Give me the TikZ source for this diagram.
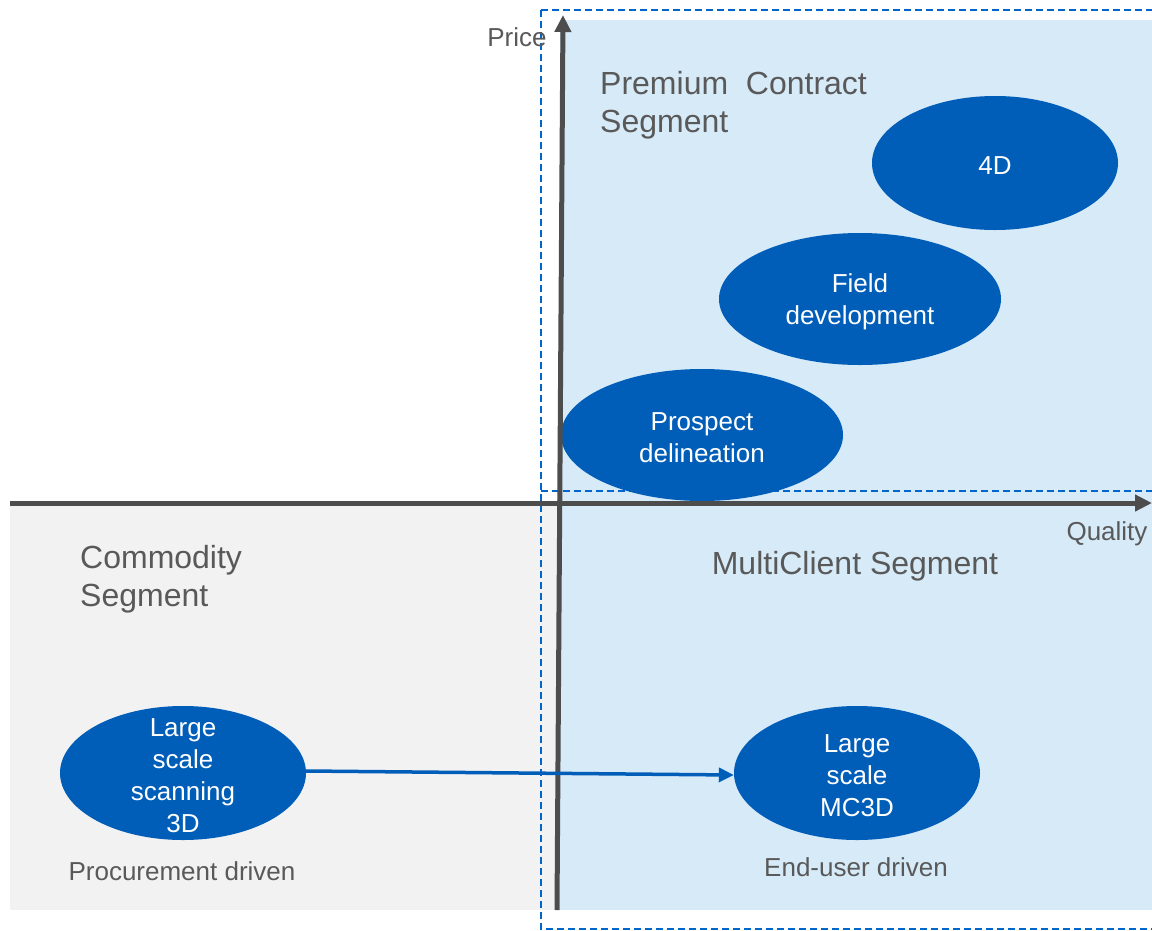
\documentclass[tikz,border=0pt]{standalone}
\usepackage{fontspec}
\setmainfont{Liberation Sans}
\usetikzlibrary{shapes.geometric,arrows.meta}
\definecolor{txtgrey}{RGB}{89,89,89}
\definecolor{axisgrey}{RGB}{77,77,77}
\definecolor{dblue}{RGB}{0,94,184}
\definecolor{lblue}{RGB}{214,234,248}
\definecolor{lgrey}{RGB}{242,242,242}
\definecolor{dashblue}{RGB}{0,102,204}
\begin{document}
\begin{tikzpicture}[x=1pt,y=-1pt,
  bubble/.style={ellipse,fill=dblue,inner sep=0pt},
  btext/.style={text=white,inner sep=0pt,align=center,font=\fontsize{26}{32}\selectfont,yshift=-3pt},
  seg/.style={text=txtgrey,inner sep=0pt,align=left,font=\fontsize{32}{38}\selectfont},
  small/.style={text=txtgrey,inner sep=0pt,font=\fontsize{26}{31}\selectfont},
  axis/.style={draw=axisgrey,line width=5pt,-{Triangle[length=17pt,width=16pt]}},
  dashbox/.style={draw=dashblue,line width=2pt,dash pattern=on 7pt off 4pt}]
\useasboundingbox (0,0) rectangle (1152,930);
% backgrounds
\fill[lgrey] (10,505) rectangle (560,910);
\fill[lblue] (560,20) rectangle (1152,910);
% dashed boxes
\draw[dashbox] (541,10) -- (1160,10);
\draw[dashbox] (541,10) -- (541,929) -- (1160,929);
\draw[dashbox] (541,491) -- (1160,491);
% axes
\coordinate (ybot) at (557,910);
\coordinate (ytop) at (563,15);
\coordinate (xleft) at (10,503);
\coordinate (xright) at (1152,503);
% bubbles
\node[bubble,minimum width=246pt,minimum height=134pt,label={[btext]center:4D}] (fourd) at (995,163) {};
\node[bubble,minimum width=282pt,minimum height=132pt,label={[btext]center:Field\\development}] (field) at (860,299) {};
\node[bubble,minimum width=282pt,minimum height=132pt,label={[btext]center:Prospect\\delineation}] (prosp) at (702,435) {};
\draw[axis] (xleft) -- (xright);
\draw[axis] (ybot) -- (ytop);
\node[bubble,minimum width=246pt,minimum height=134pt,label={[btext]center:Large\\scale\\scanning\\3D}] (lss) at (183,773) {};
\node[bubble,minimum width=246pt,minimum height=134pt,label={[btext]center:Large\\scale\\MC3D}] (mc3d) at (857,773) {};
\draw[dblue,line width=3.5pt,-{Triangle[length=15pt,width=14pt]}] ([yshift=2pt]lss.east) -- ([yshift=-2pt]mc3d.west);
% labels
\node[small] (price) at (517,37) {Price};
\node[small] (quality) at (1107,534) {Quality};
\node[seg,anchor=west] (premium) at (600,105) {Premium\ \ Contract\\Segment};
\node[seg] (multi) at (855,566) {MultiClient Segment};
\node[seg,anchor=west] (commodity) at (80,579) {Commodity\\Segment};
\node[small] (proc) at (182,871) {Procurement driven};
\node[small] (enduser) at (856,867) {End-user driven};
\end{tikzpicture}
\end{document}
